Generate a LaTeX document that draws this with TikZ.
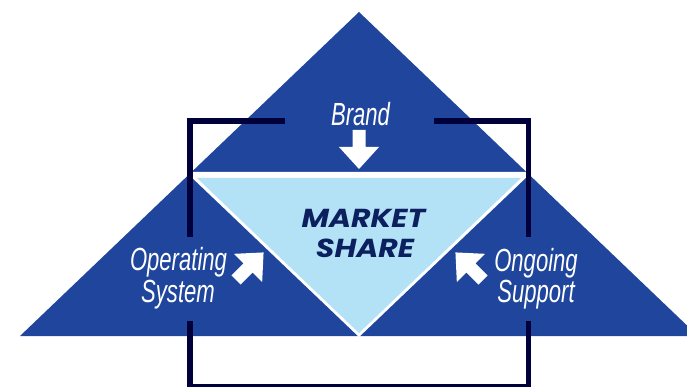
\documentclass[tikz,border=0pt]{standalone}
\usepackage{fontspec}
\setmainfont{Liberation Sans}
\newfontfamily\mkfont{Poppins}
\definecolor{triblue}{HTML}{1F459C}
\definecolor{lightblue}{HTML}{B3E2F7}
\definecolor{darkline}{HTML}{00003A}
\definecolor{navytext}{HTML}{0C1F5E}
\begin{document}
\begin{tikzpicture}[x=1pt,y=-1pt,
  lbl/.style={text=white,font=\fontsize{32}{32}\selectfont\itshape,inner sep=0pt,anchor=base},
  mk/.style={text=navytext,font=\mkfont\fontsize{26}{26}\selectfont\bfseries\itshape,inner sep=0pt,anchor=base},
  bar/.style={draw=darkline,line width=5.3pt,line cap=butt,line join=miter},
  blockarrow/.pic={\fill[white] (0,-6.5) -- (17,-6.5) -- (17,-20) -- (39,0) -- (17,20) -- (17,6.5) -- (0,6.5) -- cycle;}]
\useasboundingbox (0,0) rectangle (687,387);
\clip (0,0) rectangle (687,387);
% big blue triangle (three triangles)
\fill[triblue] (20,336) -- (359,12) -- (698,336) -- cycle;
% market share triangle with white border
\fill[white] (186,172) -- (532,172) -- (359,337) -- cycle;
\fill[lightblue] (197,178) -- (521,178) -- (359,333) -- cycle;
% dark frame lines
\draw[bar] (285,121) -- (190,121) -- (190,237.3);
\draw[bar] (434,121) -- (528.4,121) -- (528.4,237.3);
\draw[bar] (190,321) -- (190,386.5) -- (528.4,386.5) -- (528.4,321);
% block arrows
\pic[rotate=-90] at (359,130) {blockarrow};
\pic[rotate=45] at (236,280) {blockarrow};
\pic[rotate=135] at (483,280) {blockarrow};
% labels
\node[lbl] (brand) at (360.5,126) {\scalebox{0.69}[1]{Brand}};
\node[lbl] (os1) at (178.5,270.7) {\scalebox{0.69}[1]{Operating}};
\node[lbl] (os2) at (178,302.7) {\scalebox{0.69}[1]{System}};
\node[lbl] (og1) at (536,271) {\scalebox{0.69}[1]{Ongoing}};
\node[lbl] (og2) at (536,302.7) {\scalebox{0.69}[1]{Support}};
\node[mk] (ms1) at (363.5,227) {\scalebox{1.15}[1]{MARKET}};
\node[mk] (ms2) at (365,257) {\scalebox{1.15}[1]{SHARE}};
\end{tikzpicture}
\end{document}
